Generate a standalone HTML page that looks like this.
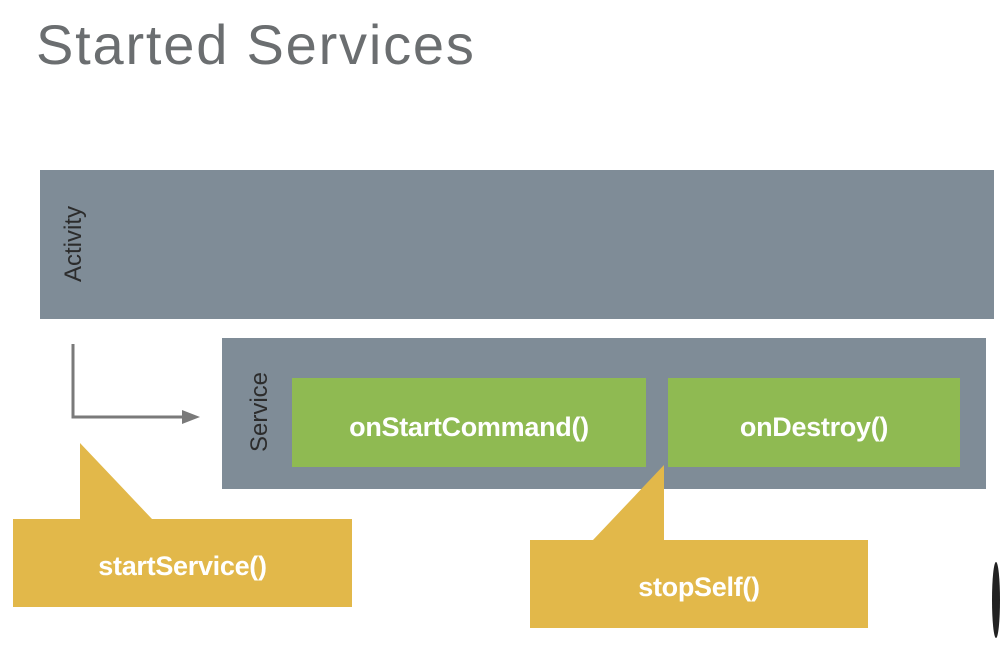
<!DOCTYPE html>
<html><head><style>
body{margin:0;width:1000px;height:646px;background:#fff;overflow:hidden;position:relative;font-family:"Liberation Sans",sans-serif}
.t{position:absolute;left:36px;top:12px;font-size:56px;color:#6b6e70;letter-spacing:1.8px}
.b{position:absolute}
.lbl{position:absolute;color:#fff;font-weight:bold;font-size:27px;text-align:center;letter-spacing:-0.3px}
.v{position:absolute;transform:rotate(-90deg);transform-origin:center;font-size:24px;color:#2c2c2c;white-space:nowrap}
</style></head><body>
<div class="t">Started Services</div>
<div class="b" style="left:40px;top:170px;width:954px;height:149px;background:#7f8c97"></div>
<div class="v" style="left:24px;top:230px;width:100px;text-align:center">Activity</div>
<div class="b" style="left:222px;top:338px;width:764px;height:151px;background:#7f8c97"></div>
<div class="v" style="left:210px;top:398px;width:100px;text-align:center">Service</div>
<div class="b" style="left:292px;top:378px;width:354px;height:89px;background:#8fba52"></div>
<div class="lbl" style="left:292px;top:412px;width:354px">onStartCommand()</div>
<div class="b" style="left:668px;top:378px;width:292px;height:89px;background:#8fba52"></div>
<div class="lbl" style="left:668px;top:412px;width:292px">onDestroy()</div>
<svg class="b" style="left:0;top:0" width="1000" height="646">
<path d="M73 344 V417 H186" stroke="#7a7a7a" stroke-width="3" fill="none"/>
<polygon points="182,410 200,417 182,424" fill="#7a7a7a"/>
<polygon points="80,443 152,519 352,519 352,607 13,607 13,519 80,519" fill="#e2b84a"/>
<polygon points="664,465 664,540 868,540 868,628 530,628 530,540 593,540" fill="#e2b84a"/>
<ellipse cx="996" cy="600" rx="4" ry="38" fill="#222"/>
</svg>
<div class="lbl" style="left:13px;top:551px;width:339px">startService()</div>
<div class="lbl" style="left:530px;top:572px;width:338px">stopSelf()</div>
</body></html>
